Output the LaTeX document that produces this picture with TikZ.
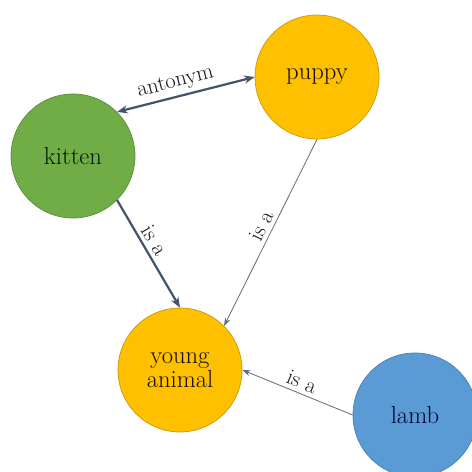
\documentclass[tikz,border=0pt]{standalone}
\usetikzlibrary{arrows.meta}
\definecolor{gold}{HTML}{FFC000}
\definecolor{goldline}{HTML}{C99A0A}
\definecolor{leaf}{HTML}{70AD47}
\definecolor{leafline}{HTML}{5A8F3A}
\definecolor{sky}{HTML}{5B9BD5}
\definecolor{skyline}{HTML}{4A80B3}
\definecolor{slate}{HTML}{44546A}
\begin{document}
\begin{tikzpicture}[x=0.03cm,y=-0.03cm,
  concept/.style={circle, draw, line width=0.6pt, minimum size=3.72cm, inner sep=0pt, align=center, font=\fontsize{21}{23}\selectfont},
  strong/.style={draw=slate, line width=1.9pt, -{Stealth[length=9pt,width=7pt]}},
  weak/.style={draw=slate!85, line width=0.7pt, -{Stealth[length=7pt,width=5pt]}},
  rel/.style={font=\fontsize{19}{21}\selectfont, text=black!90, sloped, above}]
\useasboundingbox (0,0) rectangle (472,472);
\node[concept, fill=gold, draw=goldline, text=black!90!brown] (puppy) at (317,77){puppy};
\node[concept, fill=leaf, draw=leafline, text=black!90!green] (kitten) at (73,156){kitten};
\node[concept, fill=gold, draw=goldline, text=black!90!brown] (young) at (180,370){young\\[-3pt]animal};
\node[concept, fill=sky, draw=skyline, text=black!80!blue] (lamb) at (415,415){lamb};
\draw[strong, {Stealth[length=9pt,width=7pt]}-{Stealth[length=9pt,width=7pt]}] (kitten.45) -- node[rel, pos=0.45]{antonym} (puppy.west);
\draw[strong] (kitten.-45) -- node[rel, pos=0.43]{is a} (young.north);
\draw[weak] (puppy.south) -- node[rel, pos=0.49]{is a} (young.45);
\draw[weak] (lamb.west) -- node[rel, pos=0.5]{is a} (young.east);
\end{tikzpicture}
\end{document}
